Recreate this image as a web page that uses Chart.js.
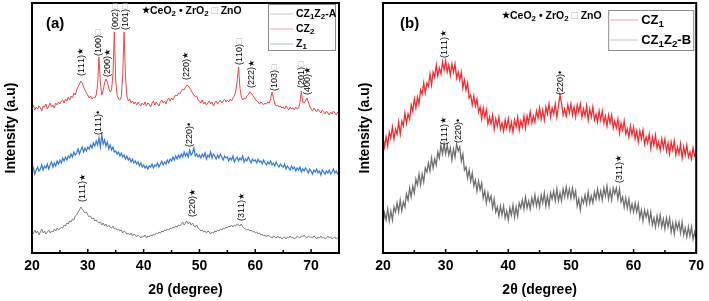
<!DOCTYPE html>
<html>
<head>
<meta charset="utf-8">
<script src="https://cdn.jsdelivr.net/npm/chart.js@4.4.1/dist/chart.umd.min.js"></script>
<style>
  body { margin: 0; background: #fff; }
  #wrap { position: relative; width: 709px; height: 301px; }
  canvas { position: absolute; top: 0; }
  #chartA { left: 0; }
  #chartB { left: 350px; }
</style>
</head>
<body>
<div id="wrap">
  <canvas id="chartA" width="350" height="301"></canvas>
  <canvas id="chartB" width="359" height="301"></canvas>
</div>
<script>
// 2theta grid: every 0.25 degree starting at 20
const angleStart = 20;
const angleStep = 0.25;

// panel (a), 20 -> 75 deg
const cz1z2A = [
  21,19,23,20,22,18,21,24,20,22,19,21,23,20,22,21,24,22,25,23,
  24,26,25,28,27,30,29,32,31,34,33,37,38,41,43,46,44,42,40,41,
  38,36,37,34,35,32,33,31,30,31,28,30,27,29,26,28,26,25,27,24,
  25,23,24,22,23,20,22,21,19,20,18,20,17,19,18,16,18,17,15,17,
  16,18,15,17,16,18,17,19,18,20,19,21,20,22,21,23,22,24,23,25,
  24,26,25,27,26,28,27,29,31,28,30,32,29,31,28,30,27,26,28,25,
  24,22,23,21,22,20,22,21,19,21,20,22,21,23,22,24,23,25,24,26,
  25,27,26,28,26,28,27,29,28,27,29,26,25,24,23,24,22,23,21,22,
  20,21,19,20,18,19,17,18,16,18,17,16,15,17,16,15,17,15,16,14,
  15,16,14,16,15,17,15,16,14,15,17,16,15,17,16,18,16,15,17,16,
  16,15,17,16,14,16,15,17,15,16,14,15,17,15,16,14,15,16,14,15,
  15
];
const cz2 = [
  145,148,143,146,144,147,145,142,147,146,149,144,147,150,146,148,145,150,148,151,
  149,152,153,150,154,152,156,153,157,155,160,158,163,166,169,172,170,166,163,160,
  158,155,157,154,156,155,158,168,196,170,158,163,170,174,171,165,161,163,178,221,
  172,158,154,153,156,178,221,176,157,152,154,150,152,149,151,148,151,149,147,150,
  148,151,147,150,149,146,150,152,148,151,149,147,151,153,150,152,149,153,155,152,
  155,153,156,158,157,160,159,162,164,163,166,168,167,165,163,160,158,156,157,153,
  152,150,153,149,151,148,150,152,149,151,147,150,152,149,151,153,150,152,154,151,
  153,151,154,152,155,157,162,172,186,165,156,153,155,154,157,158,161,160,158,156,
  154,152,151,149,151,150,148,150,149,151,150,154,161,155,149,147,148,146,147,145,
  146,144,147,145,143,146,144,145,143,146,144,145,150,162,151,150,152,155,151,147,
  144,142,145,143,141,144,142,140,143,141,139,142,140,138,141,139,142,140,138,141,
  139
];
const z1 = [
  81,85,79,83,86,82,84,88,83,87,85,89,84,88,91,86,90,87,92,89,
  93,90,95,92,96,93,97,95,99,96,101,98,100,104,99,103,106,101,105,102,
  106,104,108,105,110,107,112,108,115,106,118,109,113,107,111,104,108,103,106,101,
  102,99,101,97,100,96,98,94,97,93,95,91,94,90,92,89,91,87,90,86,
  88,85,87,84,87,86,89,85,88,87,90,86,89,92,88,91,89,93,90,94,
  92,96,93,97,94,98,95,99,96,101,97,100,96,103,98,100,105,97,99,96,
  98,95,99,96,100,94,98,96,101,95,99,97,94,98,95,99,96,93,97,95,
  96,92,95,93,97,91,94,96,92,95,93,97,91,94,92,96,93,90,94,92,
  93,90,94,91,92,89,93,90,88,91,89,92,88,90,87,91,88,86,89,87,
  86,89,84,87,85,83,87,84,86,82,85,83,86,81,84,82,85,83,80,84,
  82,79,83,81,84,80,82,78,83,81,79,82,80,83,79,81,84,80,82,79,
  81
];

// panel (b), 20 -> 70 deg
const cz1 = [
  116,106,116,107,121,115,126,114,124,119,131,119,132,127,140,130,139,134,148,142,
  154,145,156,149,163,159,170,160,170,167,179,168,181,176,188,177,185,179,191,183,
  192,181,188,178,189,181,189,175,181,173,181,165,173,163,170,155,158,148,157,147,
  154,141,146,134,145,136,143,129,136,129,138,124,134,127,136,124,130,122,133,125,
  134,123,131,121,133,126,136,123,132,126,137,125,137,130,141,130,137,131,142,135,
  145,134,143,133,146,139,149,136,145,139,149,136,147,158,150,138,144,137,148,140,
  149,138,146,136,148,141,149,136,144,137,147,133,144,136,146,133,139,131,142,133,
  142,130,137,127,138,130,138,125,132,125,134,120,130,123,132,119,124,116,127,118,
  126,114,122,111,122,114,123,109,116,110,119,105,116,108,118,105,111,103,114,105,
  114,102,110,99,111,103,112,98,106,99,109,95,106,98,108,96,101,94,105,97,
  100
];
const cz1z2B = [
  28,40,33,44,32,42,33,46,41,50,41,53,42,51,46,59,53,65,56,67,
  60,74,68,79,68,79,71,85,81,90,82,95,85,94,88,101,95,108,99,109,
  99,108,98,105,93,104,96,109,102,106,92,99,83,86,75,83,72,80,67,73,
  62,72,63,70,55,62,50,60,52,57,45,54,41,46,37,47,38,47,35,42,
  33,45,38,48,36,46,37,50,45,53,44,56,45,52,44,55,48,58,47,55,
  46,58,50,60,47,57,47,60,54,62,52,64,52,60,52,64,56,66,56,64,
  55,65,55,62,47,54,43,55,50,58,49,61,50,57,50,61,54,64,54,62,
  53,65,57,67,54,63,53,65,59,65,54,64,51,56,46,55,45,54,42,49,
  41,50,41,49,35,43,32,43,36,42,31,41,28,35,26,37,28,38,26,34,
  24,35,26,35,21,30,19,31,24,31,20,31,18,25,16,26,17,26,14,21,
  14
];

// reflection labels: [2theta, intensity at label foot, hkl, phase mark]
const peaksA = [
  [28.8, 177, '(111)', '★'], [32.0, 197, '(100)', '□'], [33.6, 176, '(200)', '★'],
  [34.9, 223, '(002)', '□'], [36.7, 223, '(101)', '□'], [47.6, 173, '(220)', '★'],
  [57.1, 188, '(110)', '□'], [59.4, 165, '(222)', '★'], [63.5, 162, '(103)', '□'],
  [68.2, 165, '(201)', '□'], [69.4, 158, '(400)', '★'],
  [32.0, 118, '(111)', '•'], [48.3, 106, '(220)', '•'],
  [29.1, 51, '(111)', '★'], [48.8, 36, '(220)', '★'], [57.6, 32, '(311)', '★']
];
const peaksB = [
  [29.8, 195, '(111)', '★'], [48.4, 158, '(220)', '•'],
  [29.8, 108, '(111)', '★'], [32.0, 110, '(220)', '•'], [57.7, 70, '(311)', '★']
];

const FONT = '"Liberation Sans", Arial, Helvetica, sans-serif';

function toPoints(vals) {
  return vals.map((v, i) => ({ x: angleStart + i * angleStep, y: v }));
}

// draws text where "_x" means subscript x, and the ZnO square is grey
function drawRich(ctx, str, x, y, size, bold) {
  let cx = x;
  for (let i = 0; i < str.length; i++) {
    let ch = str[i];
    let sub = false;
    if (ch === '_') { sub = true; ch = str[++i]; }
    let s = sub ? size * 0.75 : size;
    if (ch === '★') s = size * 0.85;
    ctx.font = (bold ? 'bold ' : '') + s + 'px ' + FONT;
    ctx.fillStyle = ch === '□' ? '#b0b0b0' : '#000';
    ctx.fillText(ch, cx, sub ? y + size * 0.3 : y);
    cx += ctx.measureText(ch).width;
  }
  return cx - x;
}

function decor(opts) {
  return {
    id: 'decor',
    afterDatasetsDraw(chart) {
      const { ctx, chartArea: a } = chart;
      const x = chart.scales.x, y = chart.scales.y;
      ctx.save();

      // frame
      ctx.strokeStyle = '#000';
      ctx.lineWidth = 2;
      ctx.strokeRect(a.left, a.top, a.right - a.left, a.bottom - a.top);

      // inward ticks, minor every 5
      ctx.lineWidth = 1.5;
      for (let v = x.min; v <= x.max; v += 5) {
        const px = x.getPixelForValue(v);
        const len = v % 10 === 0 ? 4 : 3;
        ctx.beginPath();
        ctx.moveTo(px, a.bottom);
        ctx.lineTo(px, a.bottom - len);
        ctx.stroke();
      }

      // peak labels
      ctx.textBaseline = 'middle';
      ctx.textAlign = 'left';
      opts.peaks.forEach(p => {
        ctx.save();
        ctx.translate(x.getPixelForValue(p[0]), y.getPixelForValue(p[1]));
        ctx.rotate(-Math.PI / 2);
        drawRich(ctx, p[2] + p[3], 0, 0, 9, false);
        ctx.restore();
      });

      // phase key + panel letter
      drawRich(ctx, '★CeO_2 • ZrO_2 □ ZnO', a.left + opts.keyX, a.top + opts.keyY, 10.5, true);
      ctx.font = 'bold 15px ' + FONT;
      ctx.fillStyle = '#000';
      ctx.fillText(opts.letter, a.left + opts.letterX, a.top + 21);

      // legend box
      const L = opts.legend;
      const bx = a.right - L.right - L.w, by = a.top + L.top;
      ctx.fillStyle = '#fff';
      ctx.fillRect(bx, by, L.w, L.h);
      ctx.strokeStyle = '#8a8a8a';
      ctx.lineWidth = 1;
      ctx.strokeRect(bx + 0.5, by + 0.5, L.w, L.h);
      chart.data.datasets.forEach((ds, i) => {
        const ry = by + L.rows[i];
        ctx.strokeStyle = L.colors[i];
        ctx.beginPath();
        ctx.moveTo(bx + 2, ry);
        ctx.lineTo(bx + 2 + L.line, ry);
        ctx.stroke();
        drawRich(ctx, ds.label, bx + L.line + 5, ry, L.size, true);
      });
      ctx.restore();
    }
  };
}

function makeChart(id, datasets, xmax, axisW, padRight, titlePad, plugin) {
  return new Chart(document.getElementById(id), {
    type: 'line',
    data: { datasets: datasets },
    options: {
      responsive: false,
      animation: false,
      layout: { padding: { top: 3, right: padRight, left: 0, bottom: 0 } },
      elements: { point: { radius: 0 }, line: { borderWidth: 1, tension: 0 } },
      plugins: { legend: { display: false }, tooltip: { enabled: false } },
      scales: {
        x: {
          type: 'linear', min: 20, max: xmax,
          grid: { display: false, drawTicks: false },
          border: { display: false },
          ticks: {
            stepSize: 10, includeBounds: false, padding: 5, maxRotation: 0,
            color: '#000', font: { family: FONT, size: 14, weight: 'bold' }
          },
          title: {
            display: true, text: '2θ (degree)', color: '#000',
            font: { family: FONT, size: 14, weight: 'bold' },
            padding: { top: 0, bottom: 2 }
          },
          afterFit(scale) { scale.height = 48; }
        },
        y: {
          min: 0, max: 250,
          grid: { display: false, drawTicks: false },
          border: { display: false },
          ticks: { display: false },
          title: {
            display: true, text: 'Intensity (a.u)', color: '#000',
            font: { family: FONT, size: 14, weight: 'bold' },
            padding: { top: titlePad, bottom: 0 }
          },
          afterFit(scale) { scale.width = axisW; }
        }
      }
    },
    plugins: [plugin]
  });
}

makeChart('chartA', [
  { label: 'CZ_1Z_2-A', data: toPoints(cz1z2A), borderColor: '#7e7e7e' },
  { label: 'CZ_2', data: toPoints(cz2), borderColor: '#ee4848' },
  { label: 'Z_1', data: toPoints(z1), borderColor: '#2f7be0', borderWidth: 1.2 }
], 75, 32, 11, 3, decor({
  peaks: peaksA, keyX: 110, keyY: 8, letter: '(a)', letterX: 14,
  legend: { w: 67, h: 46, top: 1, right: 4, rows: [10, 25, 40], line: 23, size: 10.5,
            colors: ['#c6c6c6', '#f4a0a0', '#a0bff0'] }
}));

makeChart('chartB', [
  { label: 'CZ_1', data: toPoints(cz1), borderColor: '#f42c2c', borderWidth: 1.3 },
  { label: 'CZ_1Z_2-B', data: toPoints(cz1z2B), borderColor: '#6f6f6f', borderWidth: 1.3 }
], 70, 33, 9, 7, decor({
  peaks: peaksB, keyX: 119, keyY: 13, letter: '(b)', letterX: 17,
  legend: { w: 85, h: 40, top: 7, right: 3, rows: [10, 30], line: 28, size: 13,
            colors: ['#f4a0a0', '#c6c6c6'] }
}));
</script>
</body>
</html>
